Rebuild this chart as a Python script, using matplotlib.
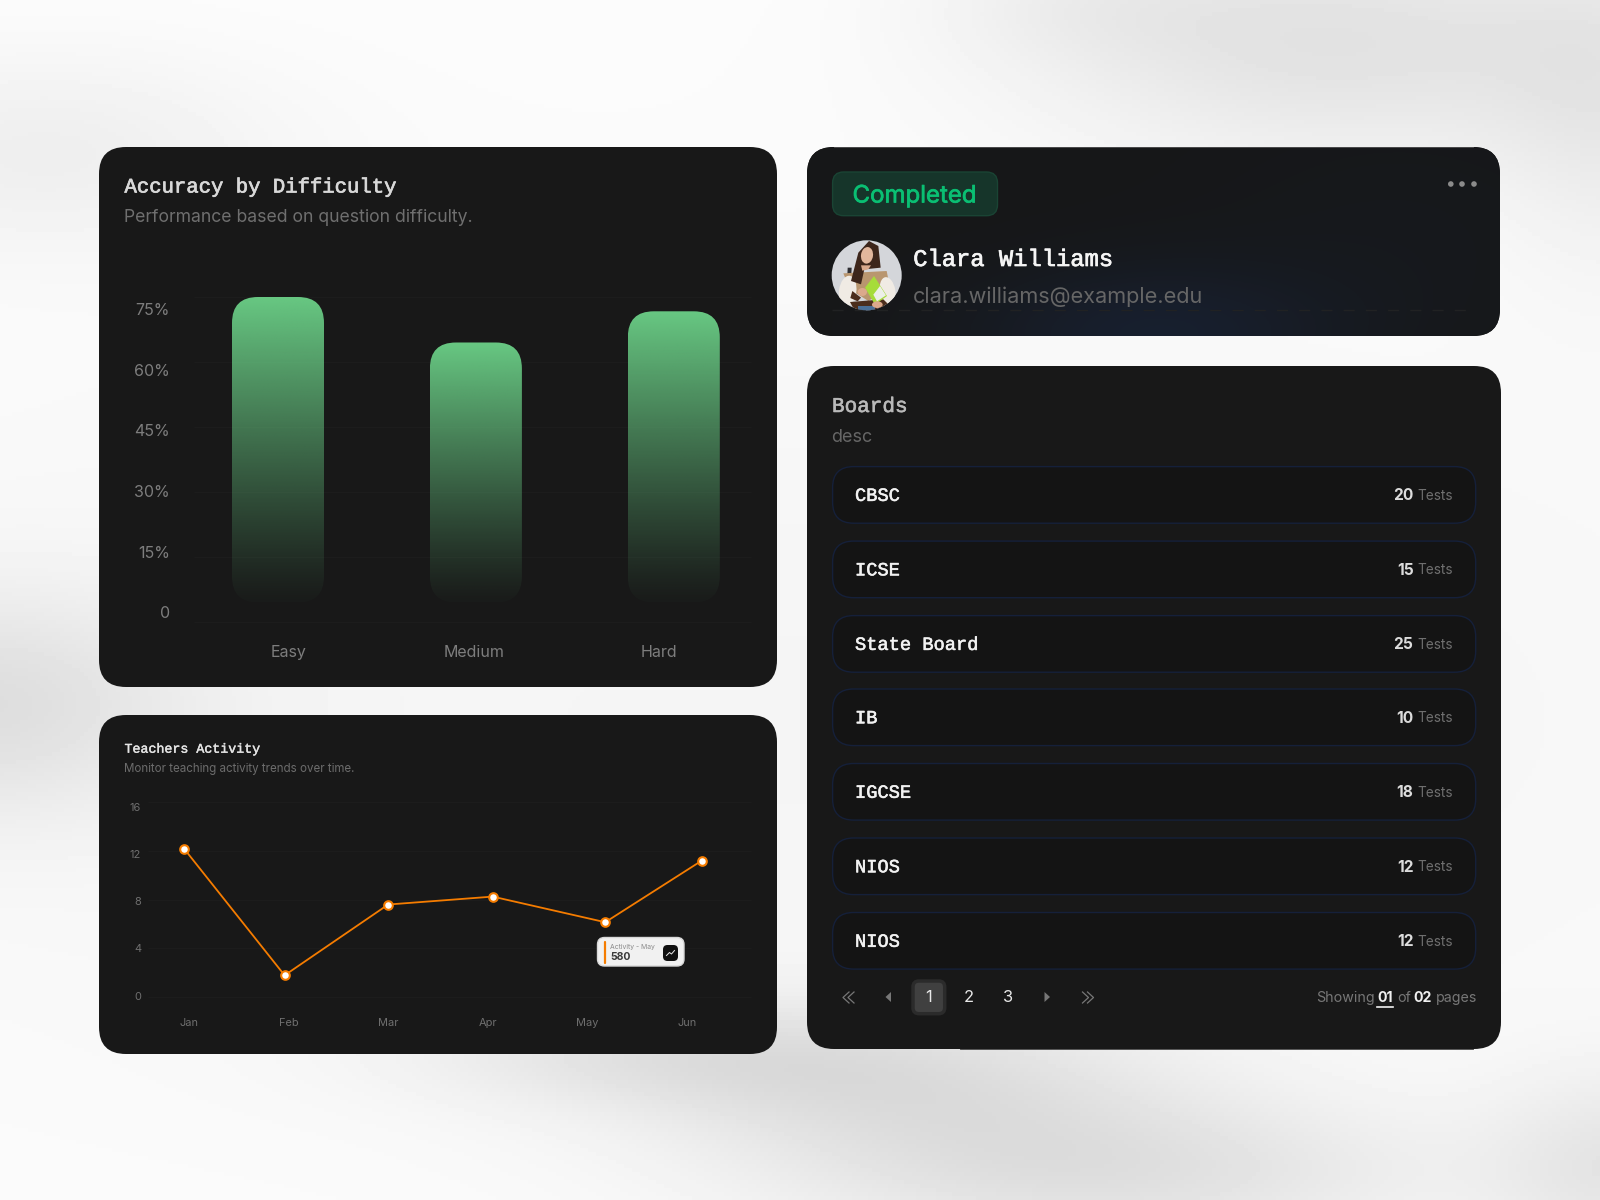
import matplotlib
matplotlib.use("Agg")
import matplotlib.patheffects as pe
import matplotlib.pyplot as plt
import numpy as np
from matplotlib.colors import to_rgb
from matplotlib.patches import Circle, Ellipse, FancyBboxPatch, PathPatch, Polygon
from matplotlib.path import Path

SANS = ["Inter", "DejaVu Sans"]
MONO = ["Liberation Mono", "DejaVu Sans Mono"]

# Bar chart data
difficulty = ["Easy", "Medium", "Hard"]
accuracy = [75, 64.5, 71.7]
bar_floor = 4.5
accuracy_grid = [0, 15, 30, 45, 60, 75]
accuracy_labels = ["0", "15%", "30%", "45%", "60%", "75%"]
accuracy_label_pos = [2.3, 16.2, 30.2, 44.3, 58.2, 72.2]
difficulty_label_pos = [0.055, 0.99, 1.925]

# Line chart data
months = ["Jan", "Feb", "Mar", "Apr", "May", "Jun"]
month_pos = [-0.05, 0.96, 2.0, 3.05, 4.18, 5.15]
activity = [12.18, 1.8, 7.6, 8.25, 6.15, 11.2]
activity_ticks = [0, 4, 8, 12, 16]
activity_label_pos = [0.1, 4.0, 7.9, 11.75, 15.6]

# Boards list
boards = ["CBSC", "ICSE", "State Board", "IB", "IGCSE", "NIOS", "NIOS"]
board_tests = [20, 15, 25, 10, 18, 12, 12]
board_rows = [494.9, 569.4, 643.9, 717.3, 791.8, 866.3, 940.8]

CARD = "#181818"
W, H = 1600, 1200


def px(size):
    # font size given in pixels, figure is 100 dpi
    return size * 0.72


def rounded(ax, x0, y0, x1, y1, r, **kw):
    p = FancyBboxPatch(
        (x0, y0), x1 - x0, y1 - y0, boxstyle=f"round,pad=0,rounding_size={r}", **kw
    )
    ax.add_patch(p)
    return p


def put(x, y, s, size, color, family=SANS, ha="left", weight="normal", ax=None, stroke=0):
    t = (ax or bg).text(
        x, y, s, fontsize=px(size), color=color, family=family, ha=ha, va="center",
        weight=weight,
    )
    if stroke:
        t.set_path_effects([pe.withStroke(linewidth=stroke, foreground=color)])
    return t


fig = plt.figure(figsize=(16, 12), dpi=100)
bg = fig.add_axes([0, 0, 1, 1])
bg.set_xlim(0, W)
bg.set_ylim(H, 0)
bg.axis("off")

# Soft grey page background
yy, xx = np.mgrid[0:H:300j, 0:W:400j]
blobs = [
    (1340, 40, 210, 85, 0.10),
    (1620, 100, 90, 120, 0.06),
    (1080, 0, 110, 45, 0.03),
    (40, 150, 170, 70, 0.05),
    (-20, 705, 150, 80, 0.10),
    (650, 1055, 170, 38, 0.07),
    (900, 1085, 190, 55, 0.09),
    (1110, 1175, 230, 55, 0.10),
    (1620, 1170, 90, 70, 0.08),
    (800, 720, 900, 330, 0.03),
]
shade = np.full_like(xx, 0.99)
for cx, cy, sx, sy, amount in blobs:
    shade -= amount * np.exp(-((xx - cx) ** 2) / (2 * sx**2) - (yy - cy) ** 2 / (2 * sy**2))
bg.imshow(shade, extent=(0, W, H, 0), cmap="gray", vmin=0, vmax=1, aspect="auto", zorder=0)
bg.set_xlim(0, W)
bg.set_ylim(H, 0)

# Cards
rounded(bg, 99, 147, 777, 687, 27, fc=CARD, ec="none", zorder=1)
rounded(bg, 99, 715, 777, 1054, 27, fc=CARD, ec="none", zorder=1)
rounded(bg, 807, 366, 1501, 1049, 27, fc=CARD, ec="none", zorder=1)
profile = rounded(bg, 807, 147, 1500, 336, 27, fc="#161718", ec="none", zorder=1)

# Blue glow on the profile card
py, px_ = np.mgrid[147:336:100j, 807:1500:300j]
glow = np.exp(-((px_ - 1153) ** 2) / (2 * 130**2) - (py - 335) ** 2 / (2 * 50**2))
glow2 = np.exp(-((px_ - 1400) ** 2) / (2 * 150**2) - (py - 240) ** 2 / (2 * 90**2))
base = np.array(to_rgb("#161718"))
tint = np.array(to_rgb("#182030"))
mix = np.clip(0.9 * glow + 0.18 * glow2, 0, 1)[..., None]
im = bg.imshow(base + (tint - base) * mix, extent=(807, 1500, 336, 147), aspect="auto", zorder=1.1)
im.set_clip_path(profile)
bg.set_xlim(0, W)
bg.set_ylim(H, 0)
bg.plot([834, 1473], [147, 147], color="#555555", lw=0.6, zorder=1.2)
bg.plot([960, 1473], [1049, 1049], color="#3c3c3c", lw=0.6, zorder=1.2)

# Accuracy card text
put(124.5, 187, "Accuracy by Difficulty", 20.6, "#d8d8d8", MONO, stroke=0.5)
put(124.5, 217.5, "Performance based on question difficulty.", 17.6, "#6f6f6f")

# Accuracy chart
ax = fig.add_axes([194 / W, 1 - 622 / H, (751 - 194) / W, (622 - 297) / H])
ax.patch.set_alpha(0)
ax.set_xlim((194 - 278) / 197.9, (751 - 278) / 197.9)
ax.set_ylim(0, 75)
ax.hlines(accuracy_grid, *ax.get_xlim(), color="#1c1c1c", lw=1, clip_on=False)
unit_x = 1 / 197.9
unit_y = 75 / 325
half_w = 46 * unit_x
rx, ry = 26 * unit_x, 26 * unit_y
green = np.array(to_rgb("#68c983"))
for i, top_val in enumerate(accuracy):
    l, r, b, t = i - half_w, i + half_w, bar_floor, top_val
    verts = [
        (l + rx, b), (r - rx, b), (r, b), (r, b + ry), (r, t - ry), (r, t), (r - rx, t),
        (l + rx, t), (l, t), (l, t - ry), (l, b + ry), (l, b), (l + rx, b), (l + rx, b),
    ]
    codes = [
        Path.MOVETO, Path.LINETO, Path.CURVE3, Path.CURVE3, Path.LINETO, Path.CURVE3, Path.CURVE3,
        Path.LINETO, Path.CURVE3, Path.CURVE3, Path.LINETO, Path.CURVE3, Path.CURVE3, Path.CLOSEPOLY,
    ]
    clip = PathPatch(Path(verts, codes), fc="none", ec="none", transform=ax.transData)
    ax.add_patch(clip)
    fade = np.zeros((256, 1, 4))
    fade[..., :3] = green
    fade[:, 0, 3] = np.linspace(1, 0, 256) ** 1.15 * 0.98 + 0.02
    bar = ax.imshow(fade, extent=(l, r, b, t), aspect="auto", zorder=2)
    bar.set_clip_path(clip)
ax.set_xlim((194 - 278) / 197.9, (751 - 278) / 197.9)
ax.set_ylim(0, 75)
ax.set_xticks(difficulty_label_pos, difficulty)
ax.set_yticks(accuracy_label_pos, accuracy_labels)
ax.tick_params(length=0, labelcolor="#7d7d7d", labelsize=px(16), pad=17.3)
ax.tick_params(axis="x", pad=16.3)
for t in ax.get_xticklabels() + ax.get_yticklabels():
    t.set_family(SANS)
for s in ax.spines.values():
    s.set_visible(False)

# Activity card text
put(124.5, 749.7, "Teachers Activity", 13.3, "#e4e4e4", MONO, stroke=0.3)
put(124.5, 769, "Monitor teaching activity trends over time.", 11.55, "#6c6c6c")

# Activity chart
ax2 = fig.add_axes([148 / W, 1 - 997.3 / H, (750.7 - 148) / W, (997.3 - 802) / H])
ax2.patch.set_alpha(0)
ax2.set_xlim((148 - 189) / 99.58, (750.7 - 189) / 99.58)
ax2.set_ylim(0, 16)
ax2.hlines(activity_ticks, *ax2.get_xlim(), color="#1c1c1c", lw=1, clip_on=False)
ax2.plot(
    month_pos, activity, color="#f57c00", lw=1.3, marker="o", ms=6.2,
    mfc="white", mec="#f57c00", mew=1.5, clip_on=False, zorder=3,
)
ax2.set_xticks(range(len(months)), months)
ax2.set_yticks(activity_label_pos, [str(v) for v in activity_ticks])
ax2.tick_params(length=0, labelcolor="#6f6f6f", labelsize=px(11), pad=5)
ax2.tick_params(axis="x", pad=15)
for t in ax2.get_xticklabels() + ax2.get_yticklabels():
    t.set_family(SANS)
for s in ax2.spines.values():
    s.set_visible(False)

# Tooltip
top = fig.add_axes([0, 0, 1, 1])
top.set_xlim(0, W)
top.set_ylim(H, 0)
top.axis("off")
top.patch.set_alpha(0)
rounded(top, 597.5, 937.5, 684, 966, 7, fc="#f1f1f1", ec="#d8d8d8", lw=1)
top.plot([605, 605], [941.5, 962.5], color="#f57c00", lw=1.6, solid_capstyle="round")
put(610, 946.5, "Activity - May", 6.8, "#8a8a8a", ax=top)
put(610, 956.5, "580", 10.5, "#3a3a3a", weight="bold", ax=top)
rounded(top, 663, 945, 678, 961, 4.5, fc="#101010", ec="none")
top.plot([666.5, 669.5, 671.5, 674.5], [955.5, 952.5, 954, 950.5], color="#e8e8e8", lw=0.7)

# Profile card
rounded(bg, 832.6, 172, 997.5, 215.7, 11, fc="#16352a", ec="#1a4434", lw=1, zorder=2)
put(914.6, 196.5, "Completed", 24, "#0abf73", ha="center", stroke=0.5)
for dot_x in (1450.8, 1462, 1474):
    bg.add_patch(Circle((dot_x, 184), 2.8, fc="#8b8b8b", ec="none", zorder=2))


# Avatar, coordinates are in a 255x240 sketch box around the photo
def sk(*pts):
    return [(825 + u / 3, 236 + v / 3) for u, v in pts]


def blob(u, v, w, h, color, angle=0):
    (x, y), = sk((u, v))
    return Ellipse((x, y), w / 3, h / 3, angle=angle, fc=color, ec="none")


disc = Circle((866.7, 275.3), 35, fc="#d4d6da", ec="none", zorder=2)
bg.add_patch(disc)
avatar = [
    Polygon(sk((68, 95), (80, 95), (76, 170), (65, 170)), fc="#2e2e32", ec="none"),
    Polygon(sk((55, 112), (185, 105), (195, 155), (130, 195), (75, 160)), fc="#b9966f", ec="none"),
    blob(68, 165, 52, 92, "#f0ebe4", 8),
    blob(188, 165, 46, 84, "#f0ebe4", -10),
    Polygon(sk((82, 165), (108, 185), (98, 196), (76, 186)), fc="#4b2d1c", ec="none"),
    Polygon(sk((75, 198), (175, 190), (190, 205), (165, 222), (88, 222)), fc="#4b2d1c", ec="none"),
    Polygon(sk((100, 210), (150, 210), (150, 226), (100, 226)), fc="#4a6f97", ec="none"),
    Polygon(sk((132, 15), (160, 30), (167, 95), (118, 100), (108, 145), (78, 135), (100, 50)), fc="#3d261b", ec="none"),
    blob(126, 58, 36, 50, "#e2b79c", 8),
    Polygon(sk((108, 88), (138, 88), (130, 100), (112, 104)), fc="#d9a98c", ec="none"),
    Polygon(sk((120, 155), (147, 120), (186, 180), (150, 206)), fc="#a6dc3a", ec="none"),
    Polygon(sk((145, 176), (165, 150), (183, 178), (156, 196)), fc="#ecefe8", ec="none"),
    blob(112, 168, 28, 24, "#dba98c"),
    blob(157, 206, 32, 20, "#dba98c"),
]
for shape in avatar:
    shape.set_zorder(2.1)
    bg.add_patch(shape)
    shape.set_clip_path(disc)

put(913.2, 259.5, "Clara Williams", 23.8, "#f5f5f5", MONO, stroke=0.5)
put(913.2, 296.5, "clara.williams@example.edu", 21.7, "#666666")
bg.plot([832, 1476], [310, 310], color="#212223", lw=1, ls=(0, (8, 8)), zorder=2)

# Boards card
put(832, 406.5, "Boards", 21, "#b9b9b9", MONO, stroke=0.4)
put(831.5, 437, "desc", 18, "#666666")
for name, count, yc in zip(boards, board_tests, board_rows):
    rounded(bg, 832.6, yc - 28.3, 1475.7, yc + 28.3, 21, fc="#141414", ec="#15203a", lw=1, zorder=2)
    put(855, yc + 1.5, name, 18.7, "#f2f2f2", MONO, stroke=0.4)
    put(1453, yc + 1, "Tests", 13.6, "#6f6f6f", ha="right")
    put(1413.5, yc + 1, str(count), 15.5, "#dcdcdc", ha="right", weight="bold")

# Pagination
rounded(bg, 913, 981, 944.7, 1013.7, 6, fc="#404040", ec="#2b2b2b", lw=2.5, zorder=2)
put(928.6, 998, "1", 16.5, "#e8e8e8", ha="center")
put(968.5, 998, "2", 16.5, "#e8e8e8", ha="center")
put(1008.3, 998, "3", 16.5, "#e8e8e8", ha="center")
for x0, sign in ((848.5, -1), (1088, 1)):
    for off in (-2.5, 2.5):
        cx = x0 + off
        bg.plot(
            [cx - sign * 3, cx + sign * 3, cx - sign * 3], [992, 997.5, 1003],
            color="#777777", lw=0.9, zorder=3,
        )
bg.add_patch(Polygon([(885.5, 997), (891, 992), (891, 1002)], fc="#777777", ec="none", zorder=3))
bg.add_patch(Polygon([(1050, 997), (1044.5, 992), (1044.5, 1002)], fc="#777777", ec="none", zorder=3))
put(1316, 998, "Showing", 14.2, "#777777")
put(1377, 998, "01", 14.2, "#f0f0f0", weight="bold")
put(1397, 998, "of", 14.2, "#777777")
put(1413.5, 998, "02", 14.2, "#f0f0f0", weight="bold")
put(1436, 998, "pages", 14.2, "#777777")
bg.plot([1377, 1392.5], [1006.5, 1006.5], color="#f0f0f0", lw=1.2, zorder=3)

fig.savefig("out.png", dpi=100)
